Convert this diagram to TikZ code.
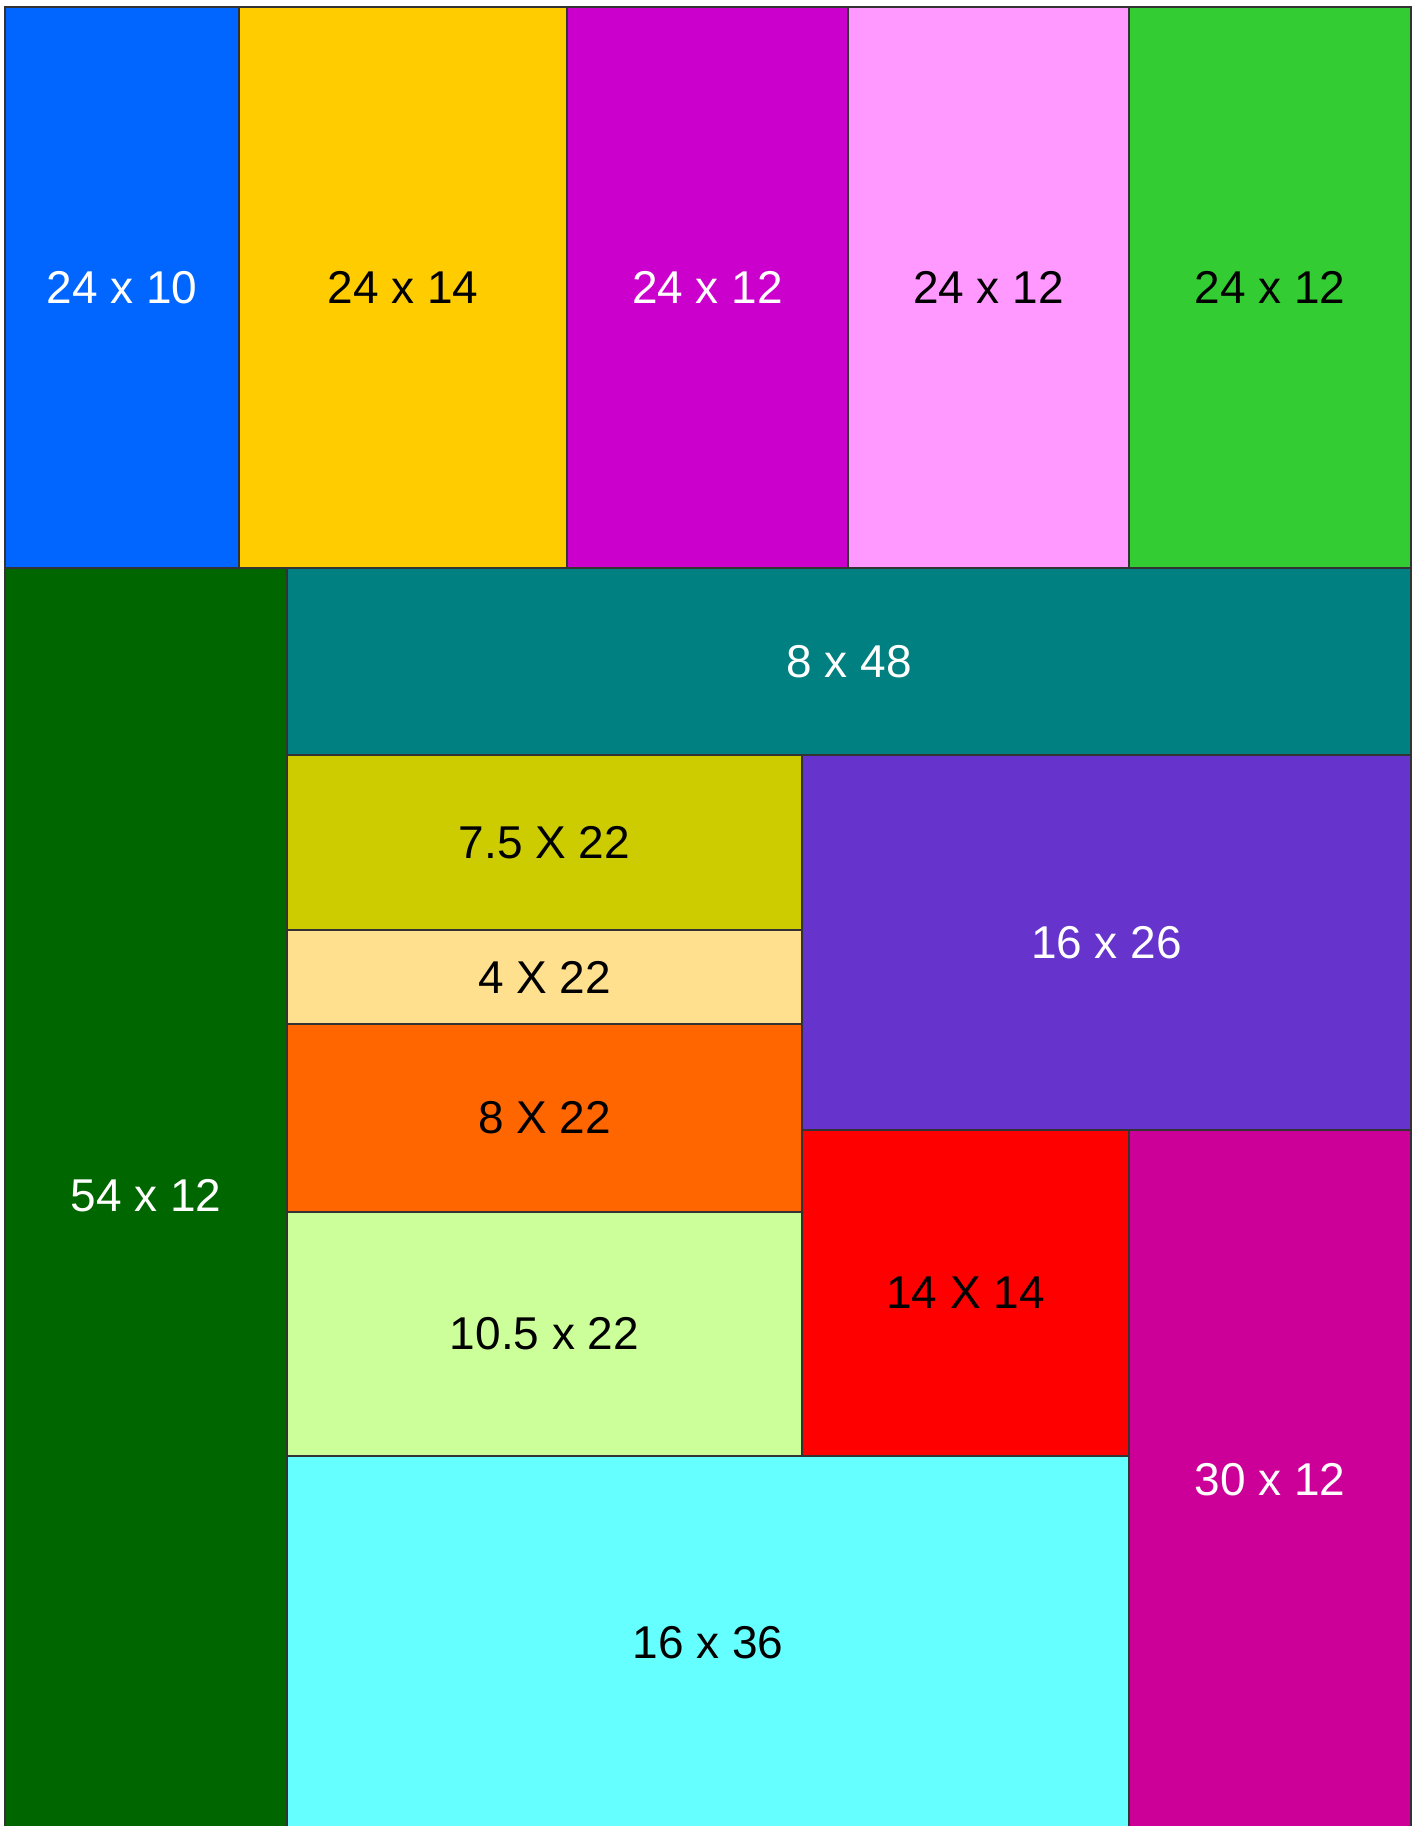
\documentclass[tikz,border=0pt]{standalone}
\usepackage{fontspec}
\setmainfont{Liberation Sans}
\definecolor{cBlue}{HTML}{0066FF}
\definecolor{cYellow}{HTML}{FFCC00}
\definecolor{cMagenta}{HTML}{CC00CC}
\definecolor{cPink}{HTML}{FF99FF}
\definecolor{cGreen}{HTML}{33CC33}
\definecolor{cDarkGreen}{HTML}{006600}
\definecolor{cTeal}{HTML}{008080}
\definecolor{cOlive}{HTML}{CCCC00}
\definecolor{cTan}{HTML}{FFE08F}
\definecolor{cOrange}{HTML}{FF6600}
\definecolor{cLightGreen}{HTML}{CCFF99}
\definecolor{cPurple}{HTML}{6633CC}
\definecolor{cRed}{HTML}{FF0000}
\definecolor{cMagentaTwo}{HTML}{CC0099}
\definecolor{cCyan}{HTML}{66FFFF}
\definecolor{cBorder}{HTML}{333333}
\newcommand{\rectblk}[8]{%
  \node[blk, fill=#6, text=#7,
        minimum width={(#4-#2)*1pt}, minimum height={(#5-#3)*1pt}]
        (#1) at ({(#2+#4)/2},{(#3+#5)/2}) {#8};}
\begin{document}
\begin{tikzpicture}[x=1pt,y=-1pt,
  blk/.style={draw=cBorder, line width=1.5pt, rectangle, inner sep=0pt, outer sep=0pt,
              font=\fontsize{46}{55}\selectfont}]
\useasboundingbox (0,0) rectangle (1416,1826);
\fill[white] (0,0) rectangle (1416,1826);
% top row
\rectblk{a}{5}{7}{239}{568}{cBlue}{white}{24 x 10}
\rectblk{b}{239}{7}{567}{568}{cYellow}{black}{24 x 14}
\rectblk{c}{567}{7}{848}{568}{cMagenta}{white}{24 x 12}
\rectblk{d}{848}{7}{1129}{568}{cPink}{black}{24 x 12}
\rectblk{e}{1129}{7}{1411}{568}{cGreen}{black}{24 x 12}
% lower part
\rectblk{f}{5}{568}{287}{1830}{cDarkGreen}{white}{\raisebox{8pt}{54 x 12}}
\rectblk{g}{287}{568}{1411}{755}{cTeal}{white}{8 x 48}
\rectblk{h}{287}{755}{802}{930}{cOlive}{black}{7.5 X 22}
\rectblk{i}{287}{930}{802}{1024}{cTan}{black}{4 X 22}
\rectblk{j}{287}{1024}{802}{1212}{cOrange}{black}{8 X 22}
\rectblk{k}{287}{1212}{802}{1456}{cLightGreen}{black}{10.5 x 22}
\rectblk{l}{802}{755}{1411}{1130}{cPurple}{white}{16 x 26}
\rectblk{m}{802}{1130}{1129}{1456}{cRed}{black}{14 X 14}
\rectblk{n}{1129}{1130}{1411}{1830}{cMagentaTwo}{white}{30 x 12}
\rectblk{o}{287}{1456}{1129}{1830}{cCyan}{black}{16 x 36}
\end{tikzpicture}
\end{document}
